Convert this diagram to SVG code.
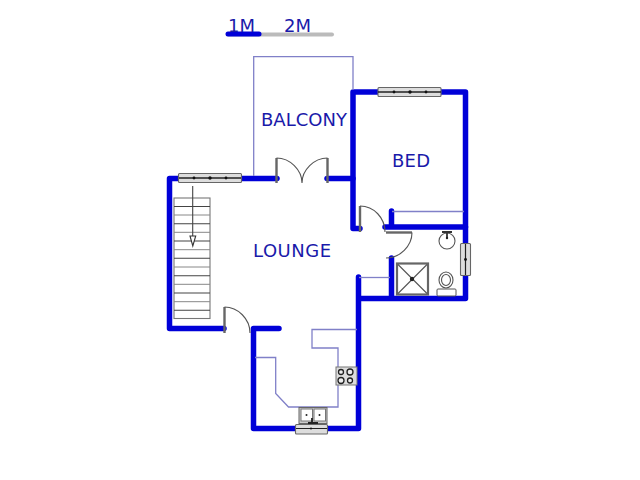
<svg xmlns="http://www.w3.org/2000/svg" width="640" height="480" viewBox="0 0 640 480">
<style>
.w{fill:none;stroke:#0000d8;stroke-width:5.500;stroke-linecap:round;stroke-linejoin:round}
.p{fill:none;stroke:#8080c8;stroke-width:1.300}
.g{fill:none;stroke:#555;stroke-width:1.100}
.post{fill:none;stroke:#666;stroke-width:2.400}
.win{fill:#ddd;stroke:#666;stroke-width:1.100}
.t{font-family:"DejaVu Sans",sans-serif;font-size:18px;fill:#1a1aaa}
</style>
<g id="scale">
<path d="M228 34.500H332" fill="none" stroke="#bbb" stroke-width="4" stroke-linecap="round"/>
<path d="M228 34H259" fill="none" stroke="#0000d8" stroke-width="5" stroke-linecap="round"/>
<text class="t" x="228" y="31.500">1M</text>
<text class="t" x="284" y="31.500">2M</text>
</g>
<g id="connectors">
<path class="w" d="M178 178.500H169.500V328.500H224"/>
<path class="w" d="M241 178.500H277"/>
<path class="w" d="M327 178.500H353"/>
<path class="w" d="M378 92H353V228.500H360"/>
<path class="w" d="M441 92H465.500V243"/>
<path class="w" d="M465.500 275V298.500H358.500M358.500 277V428.500H327"/>
<path class="w" d="M295 428.500H253.500V328.500H279"/>
<path class="w" d="M391.500 211V227H465.500M385 227H392"/>
<path class="w" d="M391.500 258V298"/>
</g>
<g id="balcony">
<path class="p" d="M253.700 176V56.700H353V90"/>
<text class="t" x="261" y="126" textLength="86">BALCONY</text>
</g>
<g id="french-door">
<path class="post" d="M276.500 158V183M327.500 158V183"/>
<path class="g" d="M276.500 158C290 158 302 170 302 183M327.500 158C314 158 302 170 302 183"/>
</g>
<g id="window-lounge">
<rect class="win" x="178.500" y="173.500" width="63" height="9" rx="1"/>
<path d="M179 178H241" stroke="#222" stroke-width="1.400"/>
<circle cx="194" cy="178" r="1.400" fill="#111"/><circle cx="210" cy="178" r="1.700" fill="#111"/><circle cx="226" cy="178" r="1.400" fill="#111"/>
</g>
<g id="window-bed">
<rect class="win" x="378" y="87.500" width="63" height="9" rx="1"/>
<path d="M378 92H441" stroke="#222" stroke-width="1.400"/>
<circle cx="394" cy="92" r="1.400" fill="#111"/><circle cx="410" cy="92" r="1.700" fill="#111"/><circle cx="426" cy="92" r="1.400" fill="#111"/>
</g>
<g id="bed">
<text class="t" x="392" y="167" textLength="38">BED</text>
<path class="p" d="M392 211.500H464"/>
</g>
<g id="bed-door">
<path class="post" d="M360 206V232"/>
<path class="g" d="M360 206C374 206 385 218 385 232"/>
</g>
<g id="bath-door">
<path class="post" d="M386 232.500H412"/>
<path class="g" d="M412 232.500C412 246 400 258 386 258"/>
</g>
<g id="basin">
<circle class="g" cx="447" cy="241" r="8"/>
<path d="M442 232H452M447 232V238" stroke="#333" stroke-width="1.800"/>
<circle cx="447" cy="238" r="1.200" fill="#222"/>
</g>
<g id="window-bath">
<rect class="win" x="460.500" y="243.500" width="10" height="32" rx="1"/>
<path d="M465.500 244V275" stroke="#222" stroke-width="1.200"/>
<circle cx="465.500" cy="259.500" r="1.400" fill="#111"/>
</g>
<g id="shower">
<rect x="397" y="263.500" width="31" height="31" fill="none" stroke="#666" stroke-width="2.200"/>
<path class="g" d="M398 264.500L427 293.500M427 264.500L398 293.500"/>
<circle cx="412" cy="279" r="2.200" fill="#222"/>
</g>
<g id="toilet">
<ellipse class="g" cx="446" cy="280" rx="7" ry="8"/>
<ellipse class="g" cx="446" cy="280" rx="4.500" ry="5.500" stroke-width="0.800"/>
<rect x="437" y="289" width="19" height="7" rx="1" fill="#fff" stroke="#555"/>
</g>
<g id="utility">
<path class="p" d="M359 277.500H390"/>
</g>
<g id="lounge">
<text class="t" x="253" y="256.500" textLength="78">LOUNGE</text>
</g>
<g id="stairs">
<rect x="174" y="198" width="36" height="120.500" fill="none" stroke="#777" stroke-width="1.100"/>
<path fill="none" stroke="#444" stroke-width="1.100" d="M174 206.500H210M174 223.700H210M174 241H210M174 258.300H210M174 275.700H210M174 293H210M174 310.300H210"/>
<path fill="none" stroke="#888" stroke-width="1" d="M174 215H210M174 232.300H210M174 249.700H210M174 267H210M174 284.300H210M174 301.700H210"/>
<path d="M192.700 186V236" stroke="#444" stroke-width="1.100"/>
<path d="M190 236H195.700L192.800 246Z" fill="#fff" stroke="#333" stroke-width="1.100"/>
</g>
<g id="entry-door">
<path class="post" d="M224.500 307V333"/>
<path class="g" d="M224.500 307C238 307 250 319 250 333"/>
</g>
<g id="kitchen">
<path class="p" d="M357 329.500H312V348H338V407H288.500L275.700 393.500V357.500H255"/>
</g>
<g id="stove">
<rect x="336" y="367" width="21" height="18" fill="#ddd" stroke="#777"/>
<circle cx="341" cy="372" r="2.500" fill="#eee" stroke="#222" stroke-width="1.300"/><circle cx="350" cy="372" r="3" fill="#eee" stroke="#222" stroke-width="1.300"/>
<circle cx="341" cy="380.500" r="3" fill="#eee" stroke="#222" stroke-width="1.300"/><circle cx="350" cy="380.500" r="2.500" fill="#eee" stroke="#222" stroke-width="1.300"/>
</g>
<g id="sink">
<rect x="299" y="407.500" width="28" height="16" fill="#ccc" stroke="#666"/>
<rect x="301" y="409" width="11.500" height="12" fill="#fff" stroke="#777"/>
<rect x="314" y="409" width="11.500" height="12" fill="#fff" stroke="#777"/>
<circle cx="306.500" cy="415" r="1" fill="#222"/><circle cx="319.500" cy="415" r="1" fill="#222"/>
<path d="M308 423H318M312 418V423" stroke="#222" stroke-width="1.800"/>
</g>
<g id="window-kitchen">
<rect class="win" x="295.500" y="424.500" width="32" height="9.500" rx="1"/>
<path d="M296 428.500H327" stroke="#222" stroke-width="1"/>
<circle cx="311" cy="428.500" r="1" fill="#111"/>
</g>
</svg>
